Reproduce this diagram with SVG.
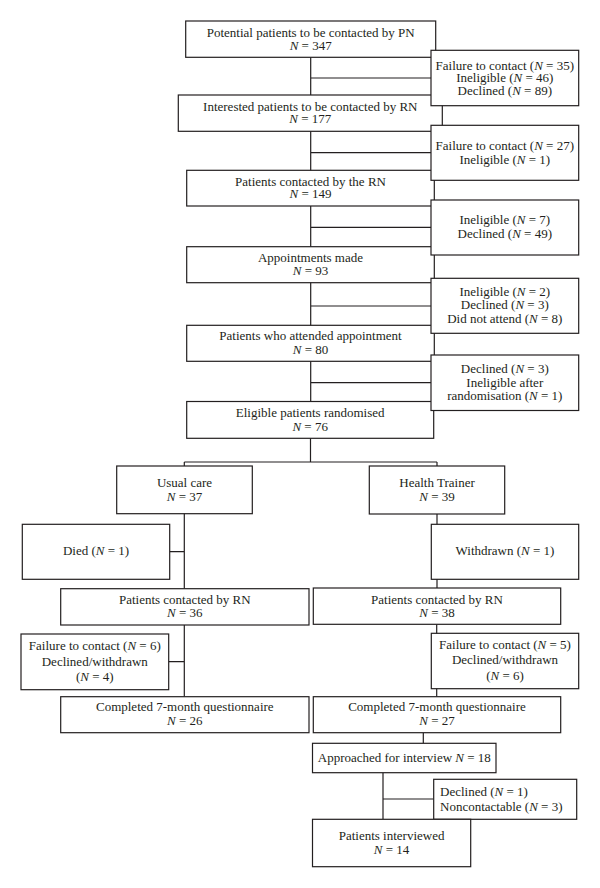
<svg xmlns="http://www.w3.org/2000/svg" width="600" height="888" viewBox="0 0 600 888">
<style>
.b{fill:#fff;stroke:#231f20;stroke-width:1.2}
.c{fill:none;stroke:#231f20;stroke-width:1.2}
text{font-family:"Liberation Serif","Times New Roman",serif;font-size:13px;fill:#231f20;text-anchor:middle}
.l{text-anchor:start}
.i{font-style:italic}
</style>
<rect width="600" height="888" fill="#fff"/>
<g id="connectors">
<path class="c" d="M310.7 57V401.5M310.7 78H431M310.7 152.7H431M310.7 227.3H431M310.7 306H431M310.7 382.7H431"/>
<path class="c" d="M310.5 438V462M184.3 462H437M184.3 462V588.7M169.7 551.7H184.3M437 462V588M184.3 625V696.7M168.7 661.7H184.3M436.7 624.3V696.7M423.3 732.7V743.3M383 772.7V819.3M383 799H433.7"/>
</g>
<g id="n1"><rect class="b" x="185.7" y="21" width="250" height="36.3"/><text x="310.7" y="36.8">Potential patients to be contacted by PN</text><text x="310.7" y="49.5"><tspan class="i">N</tspan> = 347</text></g>
<g id="n2"><rect class="b" x="178.3" y="95" width="264" height="36.3"/><text x="310.3" y="110.5">Interested patients to be contacted by RN</text><text x="310.3" y="122.8"><tspan class="i">N</tspan> = 177</text></g>
<g id="n3"><rect class="b" x="186.7" y="170.3" width="247.6" height="35.7"/><text x="310.5" y="185.5">Patients contacted by the RN</text><text x="310.5" y="197.8"><tspan class="i">N</tspan> = 149</text></g>
<g id="n4"><rect class="b" x="186.7" y="246.7" width="247.6" height="36"/><text x="310.5" y="261.8">Appointments made</text><text x="310.5" y="274.5"><tspan class="i">N</tspan> = 93</text></g>
<g id="n5"><rect class="b" x="186.7" y="325.3" width="247.6" height="36"/><text x="310.5" y="340.2">Patients who attended appointment</text><text x="310.5" y="353.8"><tspan class="i">N</tspan> = 80</text></g>
<g id="n6"><rect class="b" x="186.7" y="401.5" width="247" height="36.8"/><text x="310.2" y="417.2">Eligible patients randomised</text><text x="310.2" y="430.5"><tspan class="i">N</tspan> = 76</text></g>
<g id="sA"><rect class="b" x="431" y="50.3" width="147.7" height="55.4"/><text x="504.8" y="69.5">Failure to contact (<tspan class="i">N</tspan> = 35)</text><text x="504.8" y="81.8">Ineligible (<tspan class="i">N</tspan> = 46)</text><text x="504.8" y="95.2">Declined (<tspan class="i">N</tspan> = 89)</text></g>
<g id="sB"><rect class="b" x="431" y="125.3" width="147.7" height="55"/><text x="504.8" y="150.2">Failure to contact (<tspan class="i">N</tspan> = 27)</text><text x="504.8" y="163.5">Ineligible (<tspan class="i">N</tspan> = 1)</text></g>
<g id="sC"><rect class="b" x="431" y="200" width="147.7" height="55"/><text x="504.8" y="223.8">Ineligible (<tspan class="i">N</tspan> = 7)</text><text x="504.8" y="237.8">Declined (<tspan class="i">N</tspan> = 49)</text></g>
<g id="sD"><rect class="b" x="431" y="278.3" width="147.7" height="55"/><text x="504.8" y="295.5">Ineligible (<tspan class="i">N</tspan> = 2)</text><text x="504.8" y="308.8">Declined (<tspan class="i">N</tspan> = 3)</text><text x="504.8" y="322.8">Did not attend (<tspan class="i">N</tspan> = 8)</text></g>
<g id="sE"><rect class="b" x="431" y="355" width="147.7" height="55.5"/><text x="504.8" y="372.8">Declined (<tspan class="i">N</tspan> = 3)</text><text x="504.8" y="386.8">Ineligible after</text><text x="504.8" y="399.8">randomisation (<tspan class="i">N</tspan> = 1)</text></g>
<g id="uc"><rect class="b" x="116.7" y="466" width="135.6" height="47.7"/><text x="184.5" y="486.8">Usual care</text><text x="184.5" y="501.2"><tspan class="i">N</tspan> = 37</text></g>
<g id="ht"><rect class="b" x="369.3" y="466" width="135.4" height="48"/><text x="437" y="486.8">Health Trainer</text><text x="437" y="501.2"><tspan class="i">N</tspan> = 39</text></g>
<g id="died"><rect class="b" x="22.3" y="524.3" width="147.4" height="55"/><text x="96" y="555.2">Died (<tspan class="i">N</tspan> = 1)</text></g>
<g id="wd"><rect class="b" x="431.3" y="524.3" width="147.4" height="55"/><text x="505" y="555">Withdrawn (<tspan class="i">N</tspan> = 1)</text></g>
<g id="prnL"><rect class="b" x="60.7" y="588.7" width="248.3" height="36.3"/><text x="184.8" y="603.5">Patients contacted by RN</text><text x="184.8" y="617.2"><tspan class="i">N</tspan> = 36</text></g>
<g id="prnR"><rect class="b" x="313.3" y="588" width="247.4" height="36.3"/><text x="437" y="603.5">Patients contacted by RN</text><text x="437" y="617.2"><tspan class="i">N</tspan> = 38</text></g>
<g id="fL"><rect class="b" x="21" y="634" width="147.7" height="55.7"/><text x="94.8" y="649.5">Failure to contact (<tspan class="i">N</tspan> = 6)</text><text x="94.8" y="665.5">Declined/withdrawn</text><text x="94.8" y="680.8">(<tspan class="i">N</tspan> = 4)</text></g>
<g id="fR"><rect class="b" x="431.3" y="633.3" width="147.4" height="55.4"/><text x="505" y="648.8">Failure to contact (<tspan class="i">N</tspan> = 5)</text><text x="505" y="663.8">Declined/withdrawn</text><text x="505" y="679.8">(<tspan class="i">N</tspan> = 6)</text></g>
<g id="cL"><rect class="b" x="60.7" y="696.7" width="248.3" height="36"/><text x="184.8" y="711.2">Completed 7-month questionnaire</text><text x="184.8" y="724.5"><tspan class="i">N</tspan> = 26</text></g>
<g id="cR"><rect class="b" x="313.3" y="696.7" width="247.4" height="36"/><text x="437" y="711.2">Completed 7-month questionnaire</text><text x="437" y="724.5"><tspan class="i">N</tspan> = 27</text></g>
<g id="ap"><rect class="b" x="312.5" y="743.3" width="183.5" height="29.4"/><text x="404.3" y="761.8">Approached for interview <tspan class="i">N</tspan> = 18</text></g>
<g id="dn"><rect class="b" x="433.7" y="779.3" width="143" height="40"/><text class="l" x="440" y="796.2">Declined (<tspan class="i">N</tspan> = 1)</text><text class="l" x="440" y="810.5">Noncontactable (<tspan class="i">N</tspan> = 3)</text></g>
<g id="pi"><rect class="b" x="312.5" y="819.3" width="158.2" height="47.4"/><text x="391.6" y="839.8">Patients interviewed</text><text x="391.6" y="853.8"><tspan class="i">N</tspan> = 14</text></g>
</svg>
